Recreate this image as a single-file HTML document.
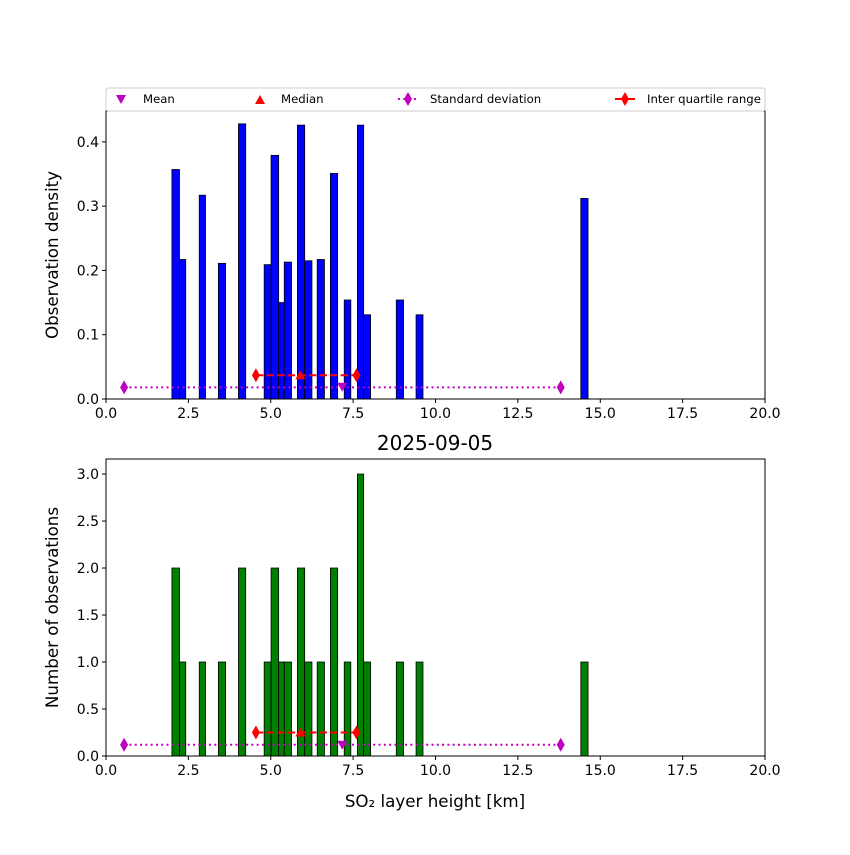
<!DOCTYPE html>
<html><head><meta charset="utf-8"><style>
body{margin:0;background:#fff}
svg{font-family:"DejaVu Sans","Liberation Sans",sans-serif}
</style></head><body>
<svg id="c" width="850" height="850" viewBox="0 0 850 850" xmlns="http://www.w3.org/2000/svg"></svg>
<script>
const binLeft=[2.00,2.23,2.83,3.41,4.02,4.80,5.01,5.24,5.41,5.81,6.03,6.41,6.81,7.23,7.63,7.82,8.81,9.41,14.41];
const binRight=[2.23,2.42,3.02,3.63,4.24,5.01,5.24,5.41,5.63,6.03,6.25,6.63,7.03,7.43,7.82,8.03,9.03,9.62,14.63];
const density=[0.357,0.217,0.317,0.211,0.428,0.209,0.379,0.150,0.213,0.426,0.215,0.217,0.351,0.154,0.426,0.131,0.154,0.131,0.312];
const counts=[2,1,1,1,2,1,2,1,1,2,1,1,2,1,3,1,1,1,1];
const xTicks=[0,2.5,5,7.5,10,12.5,15,17.5,20];
const topTicks=[0,0.1,0.2,0.3,0.4];
const botTicks=[0,0.5,1,1.5,2,2.5,3];
const stats={mean:7.17,median:5.9,sdLo:0.55,sdHi:13.8,q1:4.55,q3:7.6};
const topMarkY={sd:0.018,mean:0.019,iqr:0.037};
const botMarkY={sd:0.12,mean:0.12,iqr:0.25};
const NS="http://www.w3.org/2000/svg";
const svg=document.getElementById('c');
function el(t,a,p){const e=document.createElementNS(NS,t);for(const k in a)e.setAttribute(k,a[k]);(p||svg).appendChild(e);return e;}
const X0=106,X1=765;
const sx=v=>X0+(v-0)/20*(X1-X0);
function panel(name,top,bottom,ymax,ticks,vals,color,my,ylabel){
  const sy=v=>bottom-v/ymax*(bottom-top);
  const g=el('g',{});
  
  
  vals.forEach((v,i)=>{
    const r=el('rect',{x:sx(binLeft[i]),y:sy(v),width:sx(binRight[i])-sx(binLeft[i]),height:bottom-sy(v),fill:color,stroke:'#000','stroke-width':0.8},g);
    
    
  });
  const sd=el('line',{x1:sx(stats.sdLo),x2:sx(stats.sdHi),y1:sy(my.sd),y2:sy(my.sd),stroke:'#bf00bf','stroke-width':2,'stroke-dasharray':'2,3.3'},g);
  
  
  [stats.sdLo,stats.sdHi].forEach(v=>{const d=el('path',{d:`M${sx(v)},${sy(my.sd)-7} l4,7 l-4,7 l-4,-7z`,fill:'#bf00bf'},g);
    });
  const iq=el('line',{x1:sx(stats.q1),x2:sx(stats.q3),y1:sy(my.iqr),y2:sy(my.iqr),stroke:'#f00','stroke-width':2,'stroke-dasharray':'7.4,3.2'},g);
  
  
  [stats.q1,stats.q3].forEach(v=>{const d=el('path',{d:`M${sx(v)},${sy(my.iqr)-7} l4,7 l-4,7 l-4,-7z`,fill:'#f00'},g);
    });
  const md=el('path',{d:`M${sx(stats.median)-5},${sy(my.iqr)+4} l5,-9 l5,9z`,fill:'#f00'},g);
  
  const mn=el('path',{d:`M${sx(stats.mean)-5},${sy(my.mean)-4} l10,0 l-5,9z`,fill:'#bf00bf'},g);
  
  const fr=el('rect',{x:X0,y:top,width:X1-X0,height:bottom-top,fill:'none',stroke:'#000','stroke-width':1},g);
  
  xTicks.forEach(t=>{el('line',{x1:sx(t),x2:sx(t),y1:bottom,y2:bottom+4,stroke:'#000'},g);
    const tx=el('text',{x:sx(t),y:bottom+19,'text-anchor':'middle','font-size':14},g);tx.textContent=t.toFixed(1);
    });
  ticks.forEach(t=>{el('line',{x1:X0-4,x2:X0,y1:sy(t),y2:sy(t),stroke:'#000'},g);
    const tx=el('text',{x:X0-7,y:sy(t)+5,'text-anchor':'end','font-size':14},g);tx.textContent=t.toFixed(1);
    });
  const yl=el('text',{x:0,y:0,transform:`translate(58,${(top+bottom)/2}) rotate(-90)`,'text-anchor':'middle','font-size':16.7},g);
  yl.textContent=ylabel;
}
panel('top-histogram',111,399,0.448,topTicks,density,'#0000ff',topMarkY,'Observation density');
panel('bottom-histogram',459,756,3.16,botTicks,counts,'#008000',botMarkY,'Number of observations');
const ti=el('text',{x:435,y:450,'text-anchor':'middle','font-size':20});ti.textContent='2025-09-05';

const xl=el('text',{x:435,y:807,'text-anchor':'middle','font-size':16.7});xl.textContent='SO₂ layer height [km]';

const lg=el('g',{});


el('rect',{x:106,y:88,width:659,height:23,fill:'#fff',stroke:'#ccc','stroke-width':1,rx:2},lg);
el('path',{d:'M116,95 l10,0 l-5,9z',fill:'#bf00bf'},lg);
el('path',{d:'M255,104 l5,-9 l5,9z',fill:'#f00'},lg);
el('line',{x1:398,x2:418,y1:99,y2:99,stroke:'#bf00bf','stroke-width':2,'stroke-dasharray':'2,3.3'},lg);
el('path',{d:'M408,92 l4,7 l-4,7 l-4,-7z',fill:'#bf00bf'},lg);
el('line',{x1:615,x2:635,y1:99,y2:99,stroke:'#f00','stroke-width':2},lg);
el('path',{d:'M625,92 l4,7 l-4,7 l-4,-7z',fill:'#f00'},lg);
[['Mean',143],['Median',281],['Standard deviation',430],['Inter quartile range',647]].forEach(([t,x])=>{
  const e=el('text',{x:x,y:103,'font-size':11.7},lg);e.textContent=t;
  });
</script>
</body></html>
